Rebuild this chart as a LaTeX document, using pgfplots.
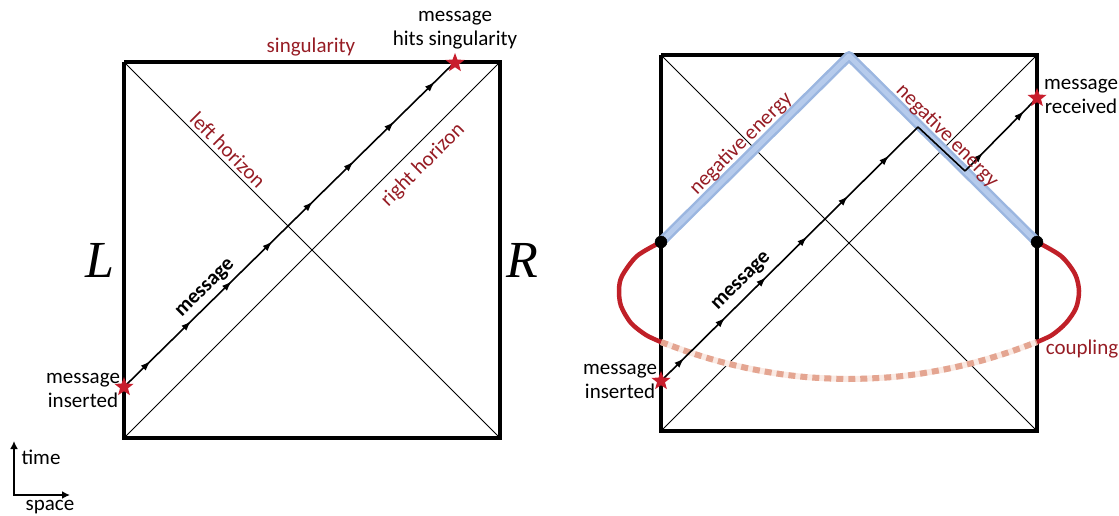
\documentclass[border=0pt]{standalone}
\usepackage{pgfplots}
\pgfplotsset{compat=1.18}
\usepackage{fontspec}
\setmainfont{Carlito}
\newfontfamily\seriffont{Liberation Serif}
\usetikzlibrary{decorations.markings,arrows.meta}

\definecolor{darkred}{RGB}{150,28,36}
\definecolor{starred}{RGB}{200,30,45}
\definecolor{arcred}{RGB}{192,32,40}
\definecolor{blueout}{RGB}{155,182,224}
\definecolor{bluein}{RGB}{182,203,236}
\definecolor{salmon}{RGB}{228,165,145}
\definecolor{salmonpale}{RGB}{250,234,228}

% filled five-point star
\pgfdeclareplotmark{fstar}{%
  \pgfpathmoveto{\pgfpointpolar{90}{\pgfplotmarksize}}%
  \pgfpathlineto{\pgfpointpolar{126}{0.42\pgfplotmarksize}}%
  \pgfpathlineto{\pgfpointpolar{162}{\pgfplotmarksize}}%
  \pgfpathlineto{\pgfpointpolar{198}{0.42\pgfplotmarksize}}%
  \pgfpathlineto{\pgfpointpolar{234}{\pgfplotmarksize}}%
  \pgfpathlineto{\pgfpointpolar{270}{0.42\pgfplotmarksize}}%
  \pgfpathlineto{\pgfpointpolar{306}{\pgfplotmarksize}}%
  \pgfpathlineto{\pgfpointpolar{342}{0.42\pgfplotmarksize}}%
  \pgfpathlineto{\pgfpointpolar{18}{\pgfplotmarksize}}%
  \pgfpathlineto{\pgfpointpolar{54}{0.42\pgfplotmarksize}}%
  \pgfpathclose\pgfusepathqfill}

\tikzset{
  txt/.style={font=\fontsize{21}{24}\selectfont, align=center, inner sep=0pt},
  mtip/.tip={Latex[length=10pt,width=7pt]},
}

\begin{document}
\begin{tikzpicture}
\begin{axis}[
  width=1119pt, height=516pt, scale only axis,
  xmin=0, xmax=1119, ymin=0, ymax=516,
  y dir=reverse,
  hide axis, clip=false,
]
%% ---------------- left diagram ----------------
\addplot[black, line width=1pt] coordinates {(124,62) (500,438)};
\addplot[black, line width=1pt] coordinates {(124,438) (500,62)};
\addplot[black, line width=3.2pt] coordinates {(124,62) (500,62) (500,438) (124,438) (124,62)};

\addplot[black, line width=1.6pt, postaction={decorate},
  decoration={markings, mark=between positions 0.08 and 0.94 step 0.1227 with {\arrow{mtip}}}]
  coordinates {(124,387) (455,62)};

\addplot[only marks, mark=fstar, mark size=10pt, starred] coordinates {(124,387) (455,63)};

\node[txt, text=darkred] at (axis cs:311,47) {singularity};
\node[txt] at (axis cs:455,30) {message\\hits singularity};
\node[txt] at (axis cs:83,390) {message\\inserted};
\node[txt, text=darkred, rotate=-45] at (axis cs:228,150) {left horizon};
\node[txt, text=darkred, rotate=45] at (axis cs:423,165) {right horizon};
\node[txt, rotate=45] at (axis cs:206,289) {\bfseries message};
\node[inner sep=0pt] at (axis cs:100,260) {\fontsize{52}{52}\selectfont\seriffont\itshape L};
\node[inner sep=0pt] at (axis cs:522,260) {\fontsize{52}{52}\selectfont\seriffont\itshape R};

% time / space arrows
\addplot[black, line width=2pt, {Latex[length=8pt,width=8pt]}-{Latex[length=8pt,width=8pt]}]
  coordinates {(14,441) (14,495) (70,495)};
\node[txt] at (axis cs:41,457) {time};
\node[txt] at (axis cs:50,507) {space};

%% ---------------- right diagram ----------------
\addplot[black, line width=1pt] coordinates {(661,55) (1037,431)};
\addplot[black, line width=1pt] coordinates {(661,431) (1037,55)};
\addplot[black, line width=3.2pt] coordinates {(661,55) (1037,55) (1037,431) (661,431) (661,55)};

% coupling
\addplot[salmonpale, line width=6pt, smooth] coordinates {
  (661,342) (690,352.5) (720,361.6) (750,368.7) (780,374.0) (810,377.4) (849,379)
  (888,377.4) (918,374.0) (948,368.7) (978,361.6) (1008,352.5) (1037,342)};
\addplot[salmon, line width=6pt, dash pattern=on 7pt off 5pt, smooth] coordinates {
  (661,342) (690,352.5) (720,361.6) (750,368.7) (780,374.0) (810,377.4) (849,379)
  (888,377.4) (918,374.0) (948,368.7) (978,361.6) (1008,352.5) (1037,342)};
\addplot[arcred, line width=4.5pt, smooth] coordinates {
  (661,242) (637,256) (622,276) (619,290) (621,306) (631,323) (646,335) (661,342)};
\addplot[arcred, line width=4.5pt, smooth] coordinates {
  (1037,242) (1061,256) (1075,274) (1079,291) (1076,308) (1066,323) (1052,335) (1037,342)};

% negative energy shock waves
\addplot[blueout, line width=10pt, line join=round] coordinates {(661,242) (849,56) (1037,242)};
\addplot[bluein, line width=5pt, line join=round] coordinates {(661,242) (849,56) (1037,242)};

% message
\addplot[black, line width=1.6pt, postaction={decorate},
  decoration={markings, mark=between positions 0.09 and 0.9 step 0.1595 with {\arrow{mtip}}}]
  coordinates {(661,381) (918,127)};
\addplot[black, line width=1.6pt] coordinates {(918,127) (965,171)};
\addplot[black, line width=1.6pt, postaction={decorate},
  decoration={markings, mark=at position 0.25 with {\arrow{mtip}}, mark=at position 0.82 with {\arrow{mtip}}}]
  coordinates {(965,171) (1037,98)};

\addplot[only marks, mark=*, mark size=6pt, black] coordinates {(661,242) (1037,242)};
\addplot[only marks, mark=fstar, mark size=10pt, starred] coordinates {(661,381) (1037,98)};

\node[txt, text=darkred, rotate=45] at (axis cs:741,144) {negative energy};
\node[txt, text=darkred, rotate=-45] at (axis cs:947,136) {negative energy};
\node[txt, rotate=45] at (axis cs:742,282) {\bfseries message};
\node[txt] at (axis cs:620,381) {message\\inserted};
\node[txt] at (axis cs:1081,96) {message\\received};
\node[txt, text=darkred] at (axis cs:1082,349) {coupling};
\end{axis}
\pgfresetboundingbox
\path[use as bounding box] (current axis.south west) rectangle (current axis.north east);
\end{tikzpicture}
\end{document}
